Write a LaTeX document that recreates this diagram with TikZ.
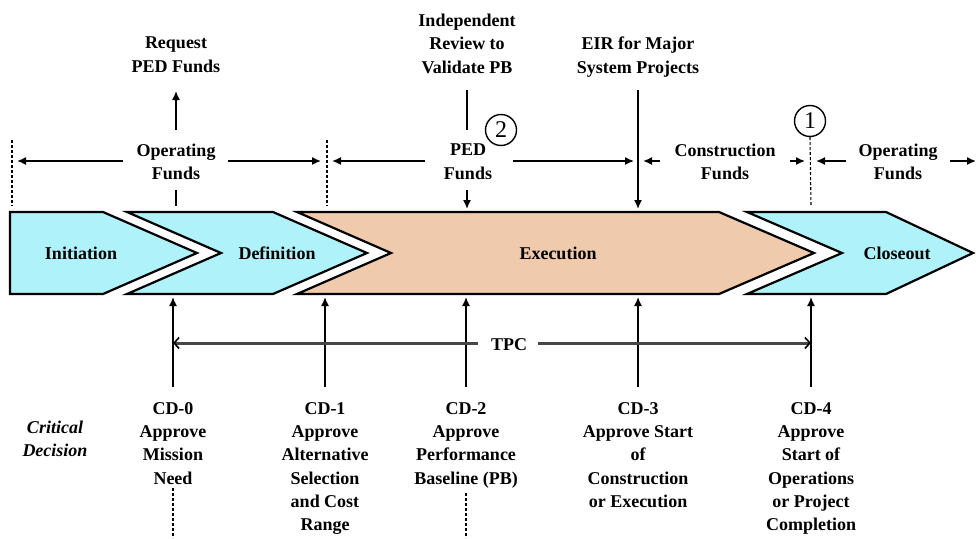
\documentclass[tikz,border=0pt]{standalone}
\usepackage{fontspec}
\setmainfont{Liberation Serif}
\usetikzlibrary{arrows.meta}
\definecolor{cyfill}{RGB}{176,242,250}
\definecolor{pefill}{RGB}{240,202,172}
\definecolor{tpcgray}{RGB}{70,70,70}
\begin{document}
\begin{tikzpicture}[x=1pt,y=-1pt,
  lbl/.style={font=\fontsize{18}{23.3}\selectfont\bfseries, align=center, inner sep=0pt},
  chev/.style={draw=black, line width=2.2pt, line join=miter},
  arr/.style={line width=1.5pt, -{Latex[length=9pt,width=8pt]}},
  plain/.style={line width=1.5pt},
  dsh/.style={line width=1.1pt, dash pattern=on 3pt off 2pt},
  tpcline/.style={line width=3pt, draw=tpcgray},
  tpctip/.style={-{Straight Barb[length=5pt,width=11pt,line width=1.6pt,color=black]}},
  num/.style={circle, draw, line width=1.4pt, minimum size=31pt, inner sep=0pt, font=\fontsize{24}{24}\selectfont}
]
\useasboundingbox (0,0) rectangle (976,538);

% chevrons
\path[chev, fill=cyfill] (10,212) -- (103,212) -- (197,253) -- (103,294) -- (10,294) -- cycle;
\path[chev, fill=cyfill] (127,212) -- (273,212) -- (367,253) -- (273,294) -- (127,294) -- (221,253) -- cycle;
\path[chev, fill=pefill] (297,212) -- (719,212) -- (814,253) -- (719,294) -- (297,294) -- (391,253) -- cycle;
\path[chev, fill=cyfill] (747,212) -- (886,212) -- (973,253) -- (886,294) -- (747,294) -- (842,253) -- cycle;

\node[lbl, anchor=base] (ini) at (81,259) {Initiation};
\node[lbl, anchor=base] (def) at (277,259) {Definition};
\node[lbl, anchor=base] (exe) at (558,259) {Execution};
\node[lbl, anchor=base] (clo) at (897,259) {Closeout};

% top labels
\node[lbl, anchor=north] (req) at (176,37) {Request\\PED Funds};
\node[lbl, anchor=north] (ind) at (467,14) {Independent\\Review to\\Validate PB};
\node[lbl, anchor=north] (eir) at (638,37) {EIR for Major\\System Projects};

\node[lbl, anchor=north] (of1) at (176,144) {Operating\\Funds};
\node[lbl, anchor=north] (ped) at (468,144) {PED\\Funds};
\node[lbl, anchor=north] (cfu) at (725,144) {Construction\\Funds};
\node[lbl, anchor=north] (of2) at (898,144) {Operating\\Funds};

\node[num] (c2) at (501,130) {2};
\node[num] (c1) at (810,121) {1};

% coordinates for free ends
\coordinate (rq1) at (176,130); \coordinate (rq2) at (176,91);
\coordinate (rq3) at (176,190); \coordinate (rq4) at (176,206);
\coordinate (o1l1) at (123,161); \coordinate (o1l2) at (17,161);
\coordinate (o1r1) at (228,161); \coordinate (o1r2) at (321,161);
\coordinate (d1a) at (12,140); \coordinate (d1b) at (12,206);
\coordinate (d2a) at (327,140); \coordinate (d2b) at (327,206);
\coordinate (pl1) at (425,161); \coordinate (pl2) at (332,161);
\coordinate (pr1) at (513,161); \coordinate (pr2) at (634,161);
\coordinate (iv1) at (467,90); \coordinate (iv2) at (467,130);
\coordinate (iv3) at (467,190); \coordinate (iv4) at (467,209);
\coordinate (ei1) at (638,90); \coordinate (ei2) at (638,209);
\coordinate (cl1) at (660,161); \coordinate (cl2) at (643,161);
\coordinate (cr1) at (790,161); \coordinate (cr2) at (805,161);
\coordinate (d3b) at (811,206);
\coordinate (ol1) at (846,161); \coordinate (ol2) at (816,161);
\coordinate (or1) at (950,161); \coordinate (or2) at (976,161);

\draw[arr] (rq1) -- (rq2);
\draw[plain] (rq3) -- (rq4);
\draw[arr] (o1l1) -- (o1l2);
\draw[arr] (o1r1) -- (o1r2);
\draw[dsh] (d1a) -- (d1b);
\draw[dsh] (d2a) -- (d2b);
\draw[arr] (pl1) -- (pl2);
\draw[arr] (pr1) -- (pr2);
\draw[plain] (iv1) -- (iv2);
\draw[arr] (iv3) -- (iv4);
\draw[arr] (ei1) -- (ei2);
\draw[arr] (cl1) -- (cl2);
\draw[arr] (cr1) -- (cr2);
\draw[dsh] (c1.south) -- (d3b);
\draw[arr] (ol1) -- (ol2);
\draw[arr] (or1) -- (or2);

% bottom labels
\node[lbl, anchor=north, font=\fontsize{18}{23.3}\selectfont\bfseries\itshape] (crit) at (55,421) {Critical\\Decision};
\node[lbl, anchor=north] (cd0) at (173,402) {CD-0\\Approve\\Mission\\Need};
\node[lbl, anchor=north] (cd1) at (325,402) {CD-1\\Approve\\Alternative\\Selection\\and Cost\\Range};
\node[lbl, anchor=north] (cd2) at (466,402) {CD-2\\Approve\\Performance\\Baseline (PB)};
\node[lbl, anchor=north] (cd3) at (638,402) {CD-3\\Approve Start\\of\\Construction\\or Execution};
\node[lbl, anchor=north] (cd4) at (811,402) {CD-4\\Approve\\Start of\\Operations\\or Project\\Completion};

\coordinate (b0) at (173,387); \coordinate (t0) at (173,297);
\coordinate (b1) at (325,387); \coordinate (t1) at (325,297);
\coordinate (b2) at (466,387); \coordinate (t2) at (466,297);
\coordinate (b3) at (638,387); \coordinate (t3) at (638,297);
\coordinate (b4) at (811,387); \coordinate (t4) at (811,297);
\draw[arr] (b0) -- (t0);
\draw[arr] (b1) -- (t1);
\draw[arr] (b2) -- (t2);
\draw[arr] (b3) -- (t3);
\draw[arr] (b4) -- (t4);

% TPC
\node[lbl] (tpc) at (509,345) {TPC};
\coordinate (tl) at (173,343); \coordinate (tr) at (811,343);
\coordinate (tla) at (478,343); \coordinate (tra) at (538,343);
\draw[tpcline, tpctip] (tla) -- (tl);
\draw[tpcline, tpctip] (tra) -- (tr);

% dashed below
\coordinate (q0a) at (173,488); \coordinate (q0b) at (173,538);
\coordinate (q2a) at (466,493); \coordinate (q2b) at (466,538);
\draw[dsh] (q0a) -- (q0b);
\draw[dsh] (q2a) -- (q2b);
\end{tikzpicture}
\end{document}
